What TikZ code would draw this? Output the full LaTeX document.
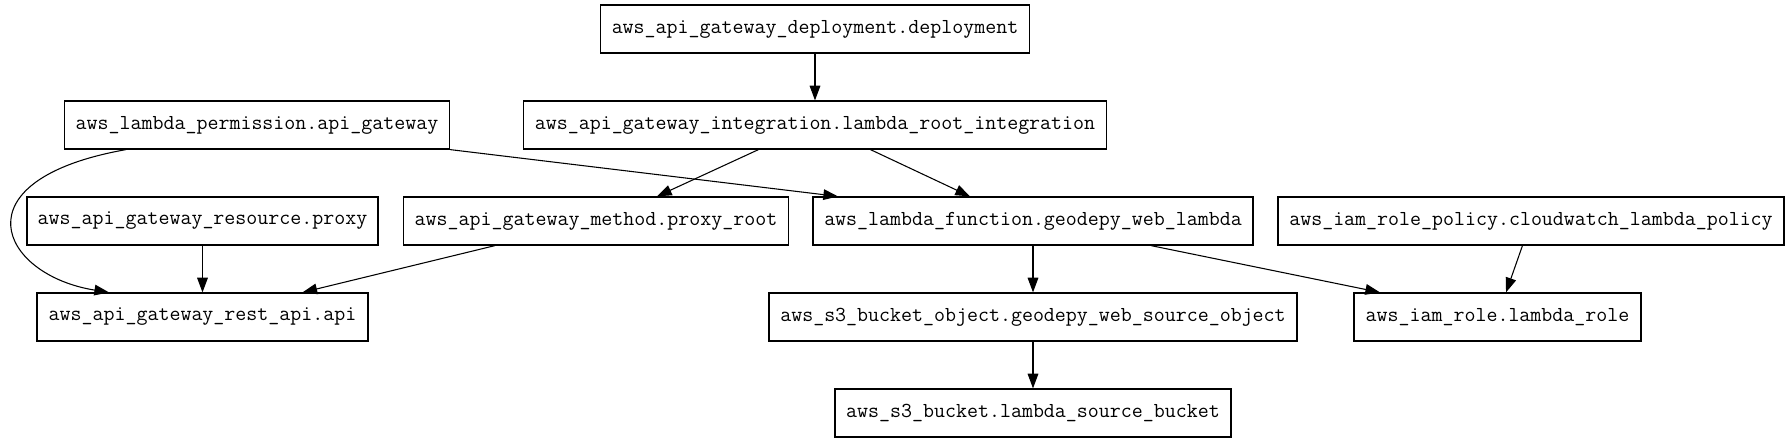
\documentclass[tikz,border=0pt]{standalone}
\usepackage{fontspec}
\usetikzlibrary{arrows.meta}
\begin{document}
\begin{tikzpicture}[x=0.75pt,y=-0.75pt,
  res/.style={draw, line width=0.9pt, rectangle, minimum height=36pt, inner xsep=0pt,
    font=\ttfamily\fontsize{16pt}{18pt}\selectfont},
  edge/.style={line width=0.8pt, -{Triangle[length=11pt,width=8pt]}}]
\useasboundingbox (0,0) rectangle (1789,443);
\node[res, minimum width=321.75pt] (deploy) at (815,29) {aws\_api\_gateway\_deployment.deployment};
\node[res, minimum width=437.25pt] (integ) at (815,125) {aws\_api\_gateway\_integration.lambda\_root\_integration};
\node[res, minimum width=288.75pt] (perm) at (257,125) {aws\_lambda\_permission.api\_gateway};
\node[res, minimum width=263.25pt] (proxy) at (202.5,221) {aws\_api\_gateway\_resource.proxy};
\node[res, minimum width=288.75pt] (method) at (596,221) {aws\_api\_gateway\_method.proxy\_root};
\node[res, minimum width=330pt] (lambdafn) at (1033,221) {aws\_lambda\_function.geodepy\_web\_lambda};
\node[res, minimum width=379.5pt] (policy) at (1531,221) {aws\_iam\_role\_policy.cloudwatch\_lambda\_policy};
\node[res, minimum width=248.25pt] (restapi) at (202.5,317) {aws\_api\_gateway\_rest\_api.api};
\node[res, minimum width=396pt] (s3obj) at (1033,317) {aws\_s3\_bucket\_object.geodepy\_web\_source\_object};
\node[res, minimum width=215.25pt] (role) at (1497.5,317) {aws\_iam\_role.lambda\_role};
\node[res, minimum width=297pt] (s3bucket) at (1033,413) {aws\_s3\_bucket.lambda\_source\_bucket};

\draw[edge] (deploy.south) -- (integ.north);
\draw[edge] ([xshift=-42.4pt]integ.south) -- ([xshift=45.75pt]method.north);
\draw[edge] ([xshift=41.6pt]integ.south) -- ([xshift=-47.25pt]lambdafn.north);
\draw[edge] (perm.south east) -- ([xshift=-146.25pt]lambdafn.north);
\draw[edge] ([xshift=-98.25pt]perm.south) .. controls (-45,180) and (0,275) .. ([xshift=-70.1pt]restapi.north);
\draw[edge] (proxy.south) -- (restapi.north);
\draw[edge] ([xshift=-75.75pt]method.south) -- ([xshift=75pt]restapi.north);
\draw[edge] (lambdafn.south) -- (s3obj.north);
\draw[edge] ([xshift=88.5pt]lambdafn.south) -- ([xshift=-88.1pt]role.north);
\draw[edge] ([xshift=-6.4pt]policy.south) -- ([xshift=6.4pt]role.north);
\draw[edge] (s3obj.south) -- (s3bucket.north);
\end{tikzpicture}
\end{document}
